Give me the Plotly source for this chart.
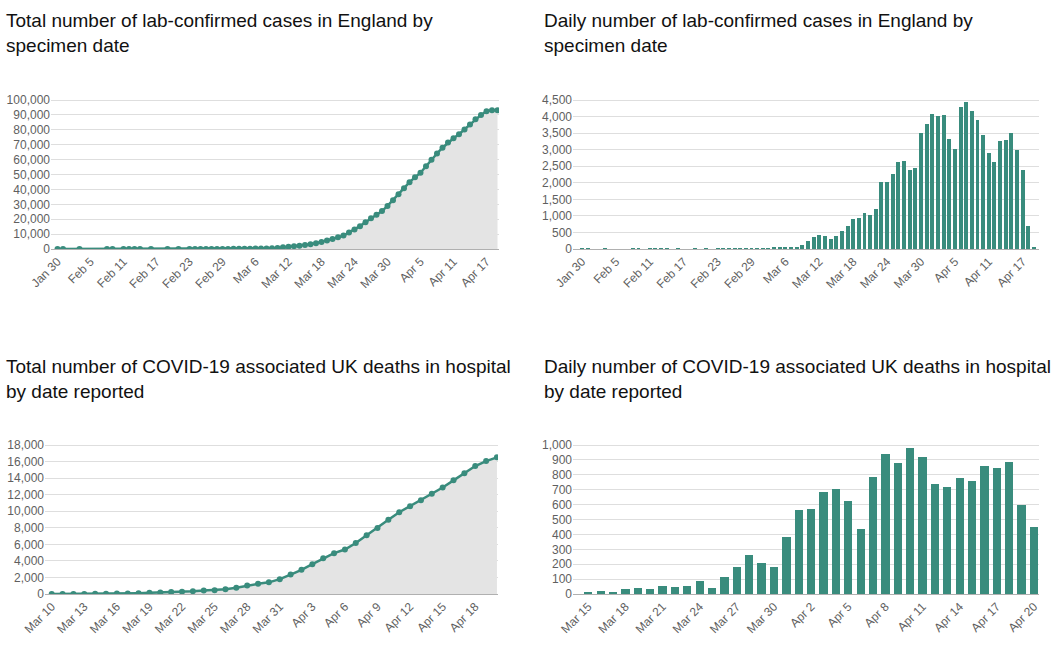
import pandas as pd
import plotly.graph_objects as go

# ---------------- DATA ----------------
# England lab-confirmed cases by specimen date (sparse early dates, then daily)
cases_early_dates = ["2020-01-30", "2020-01-31", "2020-02-03", "2020-02-08", "2020-02-09",
                     "2020-02-11", "2020-02-12", "2020-02-13", "2020-02-14", "2020-02-16",
                     "2020-02-19", "2020-02-21"]
cases_daily_start = "2020-02-23"
cases_daily_end = "2020-04-19"
cases_daily = [2, 1, 1, 1, 2, 1, 1, 1, 1, 1, 1, 1,
               2, 3, 5, 4, 6, 10, 12, 20, 25, 30, 35, 50, 75, 40, 40, 130, 230,
               370, 420, 390, 310, 400, 540, 680, 900, 940, 1090, 1040, 1210,
               2030, 2020, 2270, 2620, 2670, 2380, 2440, 3490, 3770,
               4090, 4030, 4040, 3320, 3020, 4290, 4430, 4160, 3910, 3450,
               2910, 2620, 3260, 3280, 3490, 3000, 2400, 690, 50]
cases_total = [2, 3, 4, 5, 7, 8, 9, 10, 11, 12, 13, 14,
               16, 19, 24, 28, 34, 44, 56, 76, 101, 131, 166, 216, 291, 331, 371, 501, 731,
               1101, 1521, 1911, 2221, 2621, 3161, 3841, 4741, 5681, 6771, 7811, 9021,
               11051, 13071, 15341, 17961, 20631, 23011, 25451, 28941, 32711,
               36801, 40831, 44871, 48191, 51211, 55501, 59931, 64091, 68001, 71451,
               74361, 76981, 80241, 83521, 87011, 90011, 92411, 93101, 93151]
cases_tick_vals = ["2020-01-30", "2020-02-05", "2020-02-11", "2020-02-17", "2020-02-23",
                   "2020-02-29", "2020-03-06", "2020-03-12", "2020-03-18", "2020-03-24",
                   "2020-03-30", "2020-04-05", "2020-04-11", "2020-04-17"]
cases_tick_text = ["Jan 30", "Feb 5", "Feb 11", "Feb 17", "Feb 23", "Feb 29", "Mar 6",
                   "Mar 12", "Mar 18", "Mar 24", "Mar 30", "Apr 5", "Apr 11", "Apr 17"]

# UK hospital deaths by date reported
deaths_total_start = "2020-03-10"
deaths_total = [6, 8, 8, 10, 21, 35, 55, 71, 104, 144, 177, 233, 281, 335, 422, 465, 578,
                759, 1019, 1228, 1408, 1789, 2352, 2921, 3605, 4313, 4934, 5373, 6159,
                7097, 7978, 8958, 9875, 10612, 11329, 12107, 12868, 13729, 14576, 15464,
                16060, 16509]
deaths_daily_start = "2020-03-15"
deaths_daily = [14, 20, 16, 33, 40, 33, 56, 48, 54, 87, 43, 115, 181, 260, 209, 180, 381,
                563, 569, 684, 708, 621, 439, 786, 938, 881, 980, 917, 737, 717, 778, 761,
                861, 847, 888, 596, 449]
deaths_total_tick_vals = ["2020-03-10", "2020-03-13", "2020-03-16", "2020-03-19", "2020-03-22",
                          "2020-03-25", "2020-03-28", "2020-03-31", "2020-04-03", "2020-04-06",
                          "2020-04-09", "2020-04-12", "2020-04-15", "2020-04-18"]
deaths_total_tick_text = ["Mar 10", "Mar 13", "Mar 16", "Mar 19", "Mar 22", "Mar 25", "Mar 28",
                          "Mar 31", "Apr 3", "Apr 6", "Apr 9", "Apr 12", "Apr 15", "Apr 18"]
deaths_daily_tick_vals = ["2020-03-15", "2020-03-18", "2020-03-21", "2020-03-24", "2020-03-27",
                          "2020-03-30", "2020-04-02", "2020-04-05", "2020-04-08", "2020-04-11",
                          "2020-04-14", "2020-04-17", "2020-04-20"]
deaths_daily_tick_text = ["Mar 15", "Mar 18", "Mar 21", "Mar 24", "Mar 27", "Mar 30", "Apr 2",
                          "Apr 5", "Apr 8", "Apr 11", "Apr 14", "Apr 17", "Apr 20"]

titles = ["Total number of lab-confirmed cases in England by<br>specimen date",
          "Daily number of lab-confirmed cases in England by<br>specimen date",
          "Total number of COVID-19 associated UK deaths in hospital<br>by date reported",
          "Daily number of COVID-19 associated UK deaths in hospital<br>by date reported"]

# ---------------- DERIVED X POSITIONS ----------------
cases_dates = cases_early_dates + [d.strftime("%Y-%m-%d") for d in
                                   pd.date_range(cases_daily_start, cases_daily_end)]
deaths_total_dates = [d.strftime("%Y-%m-%d") for d in
                      pd.date_range(deaths_total_start, periods=len(deaths_total))]
deaths_daily_dates = [d.strftime("%Y-%m-%d") for d in
                      pd.date_range(deaths_daily_start, periods=len(deaths_daily))]

# ---------------- STYLE ----------------
W, H = 1060, 656
TEAL = "#398c7d"
FILL = "#e4e4e4"
GRID = "#dedede"
BASE = "#b0b0b0"
TICKC = "#5f5f5f"
FONT = "Liberation Sans, Arial, Helvetica, sans-serif"
DAY_MS = 86400000


def xdom(l, r):
    return [l / W, r / W]


def ydom(top, bottom):
    return [1 - bottom / H, 1 - top / H]


def xrange_px(anchor, p0, px_per_day, l, r):
    a = pd.Timestamp(anchor)
    return [str(a + pd.Timedelta(days=(l - p0) / px_per_day)),
            str(a + pd.Timedelta(days=(r - p0) / px_per_day))]


fig = go.Figure()

# Chart 1: total cases (line + area)
fig.add_trace(go.Scatter(x=cases_dates, y=cases_total, mode="lines+markers",
                         line=dict(color=TEAL, width=2.5), marker=dict(color=TEAL, size=6),
                         fill="tozeroy", fillcolor=FILL, xaxis="x", yaxis="y",
                         showlegend=False))
# Chart 2: daily cases
fig.add_trace(go.Bar(x=cases_dates, y=cases_daily, marker=dict(color=TEAL, line=dict(width=0)),
                     width=0.7 * DAY_MS, xaxis="x2", yaxis="y2", showlegend=False))
# Chart 3: total deaths
fig.add_trace(go.Scatter(x=deaths_total_dates, y=deaths_total, mode="lines+markers",
                         line=dict(color=TEAL, width=2.5), marker=dict(color=TEAL, size=6),
                         fill="tozeroy", fillcolor=FILL, xaxis="x3", yaxis="y3",
                         showlegend=False))
# Chart 4: daily deaths
fig.add_trace(go.Bar(x=deaths_daily_dates, y=deaths_daily, marker=dict(color=TEAL, line=dict(width=0)),
                     width=0.67 * DAY_MS, xaxis="x4", yaxis="y4", showlegend=False))

tickfont = dict(family=FONT, size=12, color=TICKC)


def xaxis_cfg(dom, rng, tv, tt, anchor):
    return dict(domain=dom, range=rng, type="date", tickvals=tv, ticktext=tt,
                tickangle=-45, tickfont=tickfont, showgrid=False, zeroline=False,
                showline=True, linecolor=BASE, linewidth=1, ticks="", anchor=anchor,
                fixedrange=True, automargin=False)


def yaxis_cfg(dom, rng, dtick, anchor):
    return dict(domain=dom, range=rng, dtick=dtick, tickformat=",d", tickfont=tickfont,
                showgrid=True, gridcolor=GRID, gridwidth=1, zeroline=False,
                showline=False, ticks="", anchor=anchor, fixedrange=True,
                automargin=False)


fig.update_layout(
    width=W, height=H, margin=dict(l=0, r=0, t=0, b=0, autoexpand=False),
    paper_bgcolor="white", plot_bgcolor="white", bargap=0,
    font=dict(family=FONT),
    xaxis=xaxis_cfg(xdom(51, 499), xrange_px("2020-01-30", 57.5, 5.5, 51, 499),
                    cases_tick_vals, cases_tick_text, "y"),
    yaxis=yaxis_cfg(ydom(97, 249), [0, 100000 * 152 / 149], 10000, "x"),
    xaxis2=xaxis_cfg(xdom(573, 1039), xrange_px("2020-03-10", 808, 5.65, 573, 1039),
                     cases_tick_vals, cases_tick_text, "y2"),
    yaxis2=yaxis_cfg(ydom(97, 249), [0, 4500 * 152 / 149], 500, "x2"),
    xaxis3=xaxis_cfg(xdom(45, 498), xrange_px("2020-03-10", 51.7, 10.86, 45, 498),
                     deaths_total_tick_vals, deaths_total_tick_text, "y3"),
    yaxis3=yaxis_cfg(ydom(442, 594), [0, 18000 * 152 / 149], 2000, "x3"),
    xaxis4=xaxis_cfg(xdom(573, 1039), xrange_px("2020-03-15", 588.3, 12.38, 573, 1039),
                     deaths_daily_tick_vals, deaths_daily_tick_text, "y4"),
    yaxis4=yaxis_cfg(ydom(442, 594), [0, 1000 * 152 / 149], 100, "x4"),
)

title_pos = [(4, 8), (542, 8), (4, 354), (542, 354)]
for t, (px, py) in zip(titles, title_pos):
    fig.add_annotation(text=t, xref="paper", yref="paper", x=px / W, y=1 - py / H,
                       xanchor="left", yanchor="top", align="left", showarrow=False,
                       font=dict(family=FONT, size=19, color="#111111"))

fig.write_html("out.html")
